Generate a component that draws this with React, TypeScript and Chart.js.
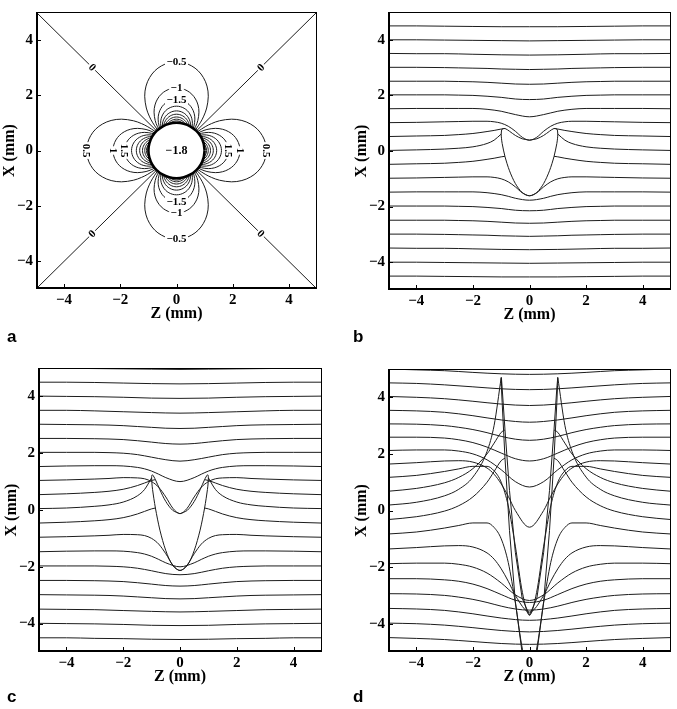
import React, { useEffect, useRef } from 'react';
import { Chart, registerables } from 'chart.js';

Chart.register(...registerables);

// ---------------- data ----------------
const TICK_VALUES = [-4, -2, 0, 2, 4];
const AXIS_MIN = -5;
const AXIS_MAX = 5;

// undistorted positions of the grid lines (mm), top to bottom
const LINE_BASES = [5, 4.5, 4, 3.5, 3, 2.5, 2, 1.5, 1, 0.5, 0, -0.5, -1, -1.5, -2, -2.5, -3, -3.5, -4, -4.5];
// |Z| sample positions (mm); each line is symmetric in Z
const Z_GRID = [0, 0.25, 0.5, 0.75, 0.866, 1, 1.25, 1.5, 2, 2.5, 3, 4, 5];
const n = null;

// panel b: displaced X position of each line at Z_GRID
const LINES_B = [
  [4.98, n, n, n, n, 4.98, n, n, 4.99, n, 4.99, 5, 5],
  [4.47, n, n, n, n, 4.47, n, n, 4.48, n, 4.49, 4.5, 4.5],
  [3.96, n, n, n, n, 3.97, n, n, 3.98, n, 3.99, 4, 4],
  [3.45, n, n, n, n, 3.46, n, n, 3.48, n, 3.5, 3.5, 3.51],
  [2.93, n, 2.94, n, n, 2.95, n, 2.97, 2.98, 2.99, 3, 3.01, 3.01],
  [2.4, n, 2.41, n, n, 2.44, n, 2.47, 2.49, 2.5, 2.51, 2.51, 2.51],
  [1.85, n, 1.87, n, n, 1.93, n, 1.97, 2, 2.01, 2.02, 2.02, 2.02],
  [1.23, n, 1.31, 1.37, n, 1.43, 1.47, 1.5, 1.53, 1.53, 1.53, 1.53, 1.52],
  [0.39, 0.49, 0.71, 0.89, n, 1, 1.05, 1.07, 1.07, 1.06, 1.05, 1.03, 1.02],
  [n, n, n, n, 0.81, 0.79, 0.74, 0.7, 0.63, 0.59, 0.56, 0.54, 0.52],
  [n, n, n, n, n, 0.61, 0.39, 0.27, 0.15, 0.1, 0.07, 0.04, 0.02],
  [n, n, n, n, -0.19, -0.21, -0.26, -0.3, -0.37, -0.41, -0.44, -0.46, -0.48],
  [-1.61, -1.51, -1.29, -1.11, n, -1, -0.95, -0.93, -0.93, -0.94, -0.95, -0.97, -0.98],
  [-1.77, n, -1.7, -1.63, n, -1.57, -1.53, -1.5, -1.47, -1.47, -1.47, -1.47, -1.48],
  [-2.15, n, -2.13, n, n, -2.07, n, -2.03, -2, -1.99, -1.98, -1.98, -1.98],
  [-2.6, n, -2.59, n, n, -2.56, n, -2.53, -2.51, -2.5, -2.49, -2.49, -2.49],
  [-3.07, n, -3.06, n, n, -3.05, n, -3.03, -3.02, -3.01, -3, -2.99, -2.99],
  [-3.55, n, n, n, n, -3.54, n, n, -3.52, n, -3.5, -3.5, -3.49],
  [-4.04, n, n, n, n, -4.03, n, n, -4.02, n, -4.01, -4, -4],
  [-4.53, n, n, n, n, -4.53, n, n, -4.52, n, -4.51, -4.5, -4.5],
];

const LINES_C = [
  [4.95, n, n, n, n, 4.96, n, n, 4.97, n, 4.98, 4.99, 5],
  [4.44, n, n, n, n, 4.45, n, n, 4.47, n, 4.49, 4.5, 4.5],
  [3.93, n, n, n, n, 3.94, n, n, 3.97, n, 3.99, 4, 4.01],
  [3.41, n, n, n, n, 3.43, n, n, 3.46, n, 3.49, 3.51, 3.51],
  [2.87, n, 2.88, n, n, 2.91, n, 2.94, 2.97, 2.99, 3, 3.01, 3.02],
  [2.32, n, 2.34, n, n, 2.39, n, 2.44, 2.48, 2.5, 2.51, 2.52, 2.52],
  [1.72, n, 1.77, n, n, 1.86, n, 1.95, 2, 2.02, 2.03, 2.03, 2.03],
  [1.0, n, 1.14, 1.26, n, 1.37, 1.45, 1.5, 1.55, 1.56, 1.56, 1.55, 1.53],
  [-0.13, 0.06, 0.46, 0.8, n, 1, 1.1, 1.13, 1.14, 1.11, 1.09, 1.06, 1.04],
  [n, n, n, n, 1.07, 1.04, 0.95, 0.86, 0.73, 0.66, 0.62, 0.57, 0.54],
  [n, n, n, n, n, 1.13, 0.72, 0.5, 0.28, 0.18, 0.13, 0.07, 0.05],
  [n, n, n, n, 0.07, 0.04, -0.05, -0.14, -0.27, -0.34, -0.38, -0.43, -0.46],
  [-2.13, -1.94, -1.54, -1.2, n, -1, -0.9, -0.87, -0.86, -0.89, -0.91, -0.94, -0.96],
  [-2.0, n, -1.86, -1.74, n, -1.63, -1.55, -1.5, -1.45, -1.44, -1.44, -1.45, -1.47],
  [-2.28, n, -2.24, n, n, -2.14, n, -2.05, -2, -1.98, -1.97, -1.97, -1.97],
  [-2.68, n, -2.66, n, n, -2.61, n, -2.56, -2.52, -2.5, -2.49, -2.48, -2.48],
  [-3.13, n, -3.12, n, n, -3.09, n, -3.06, -3.03, -3.01, -3, -2.99, -2.98],
  [-3.59, n, n, n, n, -3.57, n, n, -3.54, n, -3.51, -3.5, -3.49],
  [-4.07, n, n, n, n, -4.06, n, n, -4.03, n, -4.01, -4, -3.99],
  [-4.56, n, n, n, n, -4.55, n, n, -4.53, n, -4.52, -4.5, -4.5],
];

const LINES_D = [
  [4.81, n, n, n, n, 4.83, n, n, 4.88, n, 4.94, 4.97, 5],
  [4.27, n, n, n, n, 4.3, n, n, 4.37, n, 4.44, 4.49, 4.51],
  [3.71, n, n, n, n, 3.76, n, n, 3.86, n, 3.95, 4, 4.03],
  [3.12, n, n, n, n, 3.2, n, n, 3.35, n, 3.47, 3.52, 3.54],
  [2.48, n, 2.52, n, n, 2.62, n, 2.75, 2.86, 2.94, 3, 3.05, 3.06],
  [1.75, n, 1.83, n, n, 2.03, n, 2.24, 2.4, 2.5, 2.56, 2.59, 2.59],
  [0.83, n, 1.02, n, n, 1.44, n, 1.79, 2, 2.1, 2.14, 2.14, 2.12],
  [-0.59, n, 0, 0.5, n, 0.94, 1.28, 1.5, 1.71, 1.76, 1.75, 1.69, 1.64],
  [-3.7, -2.9, -1.26, 0.16, n, 1, 1.4, 1.56, 1.56, 1.47, 1.38, 1.24, 1.17],
  [n, n, n, n, 2.85, 2.76, 2.38, 2.0, 1.48, 1.17, 0.98, 0.78, 0.68],
  [n, n, n, n, n, 4.7, 3.01, 2.09, 1.18, 0.75, 0.52, 0.29, 0.19],
  [n, n, n, n, 1.85, 1.76, 1.38, 1.0, 0.48, 0.17, -0.02, -0.22, -0.32],
  [-5.7, -4.9, -3.26, -1.84, n, -1, -0.6, -0.44, -0.44, -0.53, -0.62, -0.76, -0.83],
  [-3.59, n, -3.0, -2.5, n, -2.06, -1.72, -1.5, -1.29, -1.24, -1.25, -1.31, -1.36],
  [-3.18, n, -2.98, n, n, -2.56, n, -2.21, -2, -1.9, -1.86, -1.86, -1.88],
  [-3.25, n, -3.17, n, n, -2.97, n, -2.76, -2.6, -2.5, -2.45, -2.41, -2.41],
  [-3.52, n, -3.48, n, n, -3.38, n, -3.25, -3.14, -3.06, -3, -2.95, -2.94],
  [-3.88, n, n, n, n, -3.8, n, n, -3.65, n, -3.53, -3.48, -3.46],
  [-4.29, n, n, n, n, -4.24, n, n, -4.14, n, -4.05, -4, -3.98],
  [-4.73, n, n, n, n, -4.7, n, n, -4.63, n, -4.56, -4.52, -4.49],
];

// image of the object's boundary (left half, top to bottom)
const BOUNDARY_Z = [0, -0.259, -0.5, -0.707, -0.866, -0.966, -0.991, -1, -0.991, -0.966, -0.866, -0.707, -0.5, -0.259, 0];
const BOUNDARY_B = [0.39, 0.44, 0.56, 0.71, 0.81, 0.79, 0.72, 0.61, 0.46, 0.27, -0.2, -0.71, -1.17, -1.49, -1.61];
const BOUNDARY_C = [-0.13, -0.01, 0.3, 0.71, 1.07, 1.24, 1.22, 1.13, 0.96, 0.72, 0.07, -0.71, -1.43, -1.95, -2.13];
const BOUNDARY_D = [-3.7, -3.1, -1.48, 0.71, 2.85, 4.33, 4.67, 4.7, 4.41, 3.81, 1.85, -0.71, -3.22, -5.04, -5.7];

// panel a: contour lobes
const LOBE_EXTENTS = [3.2, 2.26, 1.85, 1.6, 1.43, 1.31, 1.21, 1.13, 1.07];
const LOBE_AXES = [0, 90, 180, 270];
const LOBE_ANGLES = [0, 5, 10, 15, 20, 25, 30, 35, 38, 40, 42, 43, 44, 44.5, 45];
const LOBE_SHAPE = [1, 0.992, 0.969, 0.931, 0.875, 0.802, 0.707, 0.585, 0.492, 0.417, 0.323, 0.264, 0.187, 0.132, 0];
const ZERO_CONTOURS = [
  [[-5, 5], [5, -5]],
  [[-5, -5], [5, 5]],
];
const CIRCLE_RADIUS = 1.0;
const CIRCLE_STEP_DEG = 15;

const LABEL_TEXT = ['\u22120.5', '\u22121', '\u22121.5', '\u22121.5', '\u22121', '\u22120.5', '0.5', '1', '1.5', '0.5', '1', '1.5', '0', '0', '0', '0', '\u22121.8'];
const LABEL_Z = [0, 0, 0, 0, 0, 0, -3.2, -2.26, -1.85, 3.2, 2.26, 1.85, -3, 3, -3, 3, 0];
const LABEL_X = [3.2, 2.26, 1.85, -1.85, -2.26, -3.2, 0, 0, 0, 0, 0, 0, 3, 3, -3, -3, 0];
const LABEL_ROT = [0, 0, 0, 0, 0, 0, 90, 90, 90, 90, 90, 90, 45, -45, -45, 45, 0];

const PANEL_LETTERS = ['a', 'b', 'c', 'd'];

// ---------------- helpers ----------------
const SERIF = "'Liberation Serif', 'Times New Roman', Times, serif";
const LINE_COLOR = '#1c1c1c';
const Y_AXIS_W = 36;
const X_AXIS_H = 36;

const fmtTick = (v: number) => (v < 0 ? '\u2212' + Math.abs(v) : String(v));

function lineDs(points: any[], extra: any = {}) {
  return {
    data: points,
    borderColor: LINE_COLOR,
    borderWidth: 1,
    pointRadius: 0,
    fill: false,
    ...extra,
  };
}

function buildLineDatasets(rows: (number | null)[][]) {
  const out: any[] = [];
  rows.forEach((row) => {
    const left: any[] = [];
    for (let i = Z_GRID.length - 1; i >= 0; i--) {
      if (row[i] != null) left.push({ x: -Z_GRID[i], y: row[i] });
    }
    const right: any[] = [];
    for (let i = 0; i < Z_GRID.length; i++) {
      if (row[i] != null) right.push({ x: Z_GRID[i], y: row[i] });
    }
    const opts = { cubicInterpolationMode: 'monotone' };
    if (row[0] != null) {
      out.push(lineDs(left.concat(right.slice(1)), opts));
    } else {
      out.push(lineDs(left, opts));
      out.push(lineDs(right, opts));
    }
  });
  return out;
}

function buildBoundary(vals: number[], tension: number) {
  const pts: any[] = BOUNDARY_Z.map((z, i) => ({ x: z, y: vals[i] }));
  for (let i = BOUNDARY_Z.length - 2; i >= 1; i--) pts.push({ x: -BOUNDARY_Z[i], y: vals[i] });
  pts.push({ x: BOUNDARY_Z[0], y: vals[0] });
  return lineDs(pts, { tension });
}

function buildContours() {
  const out: any[] = [];
  // circle on top (index 0 is drawn last)
  const circ: any[] = [];
  for (let a = 0; a <= 360; a += CIRCLE_STEP_DEG) {
    const t = (a * Math.PI) / 180;
    circ.push({ x: CIRCLE_RADIUS * Math.cos(t), y: CIRCLE_RADIUS * Math.sin(t) });
  }
  out.push(lineDs(circ, { borderWidth: 2.6, borderColor: '#000', backgroundColor: '#ffffff', fill: 'shape', tension: 0.2 }));
  ZERO_CONTOURS.forEach((seg) => out.push(lineDs(seg.map(([x, y]) => ({ x, y })))));
  const angles = [...LOBE_ANGLES.slice(1).reverse().map((a) => -a), ...LOBE_ANGLES];
  const shape = [...LOBE_SHAPE.slice(1).reverse(), ...LOBE_SHAPE];
  LOBE_AXES.forEach((ax) => {
    LOBE_EXTENTS.forEach((ext) => {
      const pts = angles.map((a, i) => {
        const t = ((ax + a) * Math.PI) / 180;
        const r = ext * shape[i];
        return { x: r * Math.cos(t), y: r * Math.sin(t) };
      });
      out.push(lineDs(pts, { tension: 0.35 }));
    });
  });
  return out;
}

const framePlugin = {
  id: 'frame',
  afterDraw(chart: any) {
    const { ctx, chartArea: a, scales } = chart;
    ctx.save();
    ctx.strokeStyle = '#000';
    ctx.lineWidth = 1;
    ctx.beginPath();
    ctx.moveTo(a.left, a.top + 0.5);
    ctx.lineTo(a.right, a.top + 0.5);
    ctx.moveTo(a.right - 0.5, a.top);
    ctx.lineTo(a.right - 0.5, a.bottom);
    ctx.stroke();
    ctx.lineWidth = 2;
    ctx.beginPath();
    ctx.moveTo(a.left + 1, a.top);
    ctx.lineTo(a.left + 1, a.bottom);
    ctx.moveTo(a.left, a.bottom - 1);
    ctx.lineTo(a.right, a.bottom - 1);
    ctx.stroke();
    ctx.lineWidth = 1;
    ctx.beginPath();
    TICK_VALUES.forEach((v) => {
      const px = Math.round(scales.x.getPixelForValue(v)) + 0.5;
      ctx.moveTo(px, a.bottom);
      ctx.lineTo(px, a.bottom - 5);
      const py = Math.round(scales.y.getPixelForValue(v)) + 0.5;
      ctx.moveTo(a.left, py);
      ctx.lineTo(a.left + 5, py);
    });
    ctx.stroke();
    ctx.restore();
  },
};

const labelPlugin = {
  id: 'contourLabels',
  afterDatasetsDraw(chart: any) {
    const { ctx, scales } = chart;
    ctx.save();
    ctx.textAlign = 'center';
    ctx.textBaseline = 'middle';
    LABEL_TEXT.forEach((txt, i) => {
      const px = scales.x.getPixelForValue(LABEL_Z[i]);
      const py = scales.y.getPixelForValue(LABEL_X[i]);
      const big = i === LABEL_TEXT.length - 1;
      ctx.font = `bold ${big ? 12 : 11}px ${SERIF}`;
      const w = ctx.measureText(txt).width;
      ctx.save();
      ctx.translate(px, py);
      ctx.rotate((LABEL_ROT[i] * Math.PI) / 180);
      ctx.fillStyle = '#fff';
      ctx.fillRect(-w / 2 - 1.5, -5, w + 3, 10);
      ctx.fillStyle = '#000';
      ctx.fillText(txt, 0, 0.5);
      ctx.restore();
    });
    ctx.restore();
  },
};

function axisOpts(which: 'x' | 'y', title: string) {
  return {
    type: 'linear',
    min: AXIS_MIN,
    max: AXIS_MAX,
    afterBuildTicks: (s: any) => {
      s.ticks = TICK_VALUES.map((v) => ({ value: v }));
    },
    afterFit: (s: any) => {
      if (which === 'x') s.height = X_AXIS_H;
      else s.width = Y_AXIS_W;
    },
    grid: { display: false, drawTicks: false },
    border: { display: false },
    ticks: {
      padding: which === 'x' ? 2 : 3,
      color: '#000',
      autoSkip: false,
      maxRotation: 0,
      font: { family: SERIF, size: 15, weight: 'bold' },
      callback: (v: any) => fmtTick(Number(v)),
    },
    title: {
      display: true,
      text: title,
      color: '#000',
      font: { family: SERIF, size: 16, weight: 'bold' },
      padding: which === 'x' ? { top: 0, bottom: 2 } : { top: 0, bottom: 0 },
    },
  };
}

type PanelCfg = {
  canvas: { x: number; y: number; w: number; h: number };
  area: { l: number; t: number; r: number; b: number };
  datasets: () => any[];
  labels?: boolean;
};

const PANELS: PanelCfg[] = [
  {
    canvas: { x: 0, y: 0, w: 338, h: 330 },
    area: { l: 36, t: 7, r: 317, b: 289 },
    datasets: buildContours,
    labels: true,
  },
  {
    canvas: { x: 340, y: 0, w: 337, h: 330 },
    area: { l: 388, t: 7, r: 671, b: 290 },
    datasets: () => [buildBoundary(BOUNDARY_B, 0.3), ...buildLineDatasets(LINES_B)],
  },
  {
    canvas: { x: 0, y: 330, w: 338, h: 370 },
    area: { l: 38, t: 368, r: 322, b: 652 },
    datasets: () => [buildBoundary(BOUNDARY_C, 0.3), ...buildLineDatasets(LINES_C)],
  },
  {
    canvas: { x: 340, y: 330, w: 337, h: 370 },
    area: { l: 388, t: 369, r: 671, b: 652 },
    datasets: () => [buildBoundary(BOUNDARY_D, 0), ...buildLineDatasets(LINES_D)],
  },
];

const LETTER_POS = [
  { x: 7, y: 328 },
  { x: 353, y: 328 },
  { x: 7, y: 688 },
  { x: 353, y: 688 },
];

function Panel({ cfg }: { cfg: PanelCfg }) {
  const ref = useRef<HTMLCanvasElement | null>(null);
  useEffect(() => {
    if (!ref.current) return;
    const { canvas: c, area: a } = cfg;
    const padding = {
      left: a.l - c.x - Y_AXIS_W,
      top: a.t - c.y,
      right: c.x + c.w - a.r,
      bottom: c.y + c.h - a.b - X_AXIS_H,
    };
    const chart = new Chart(ref.current, {
      type: 'line',
      data: { datasets: cfg.datasets() },
      options: {
        responsive: false,
        maintainAspectRatio: false,
        animation: false,
        events: [],
        layout: { padding },
        plugins: { legend: { display: false }, tooltip: { enabled: false } },
        scales: {
          x: axisOpts('x', 'Z (mm)'),
          y: axisOpts('y', 'X (mm)'),
        },
      } as any,
      plugins: cfg.labels ? [framePlugin, labelPlugin] : [framePlugin],
    } as any);
    return () => chart.destroy();
  }, [cfg]);
  const c = cfg.canvas;
  return (
    <canvas
      ref={ref}
      width={c.w}
      height={c.h}
      style={{ position: 'absolute', left: c.x, top: c.y, width: c.w, height: c.h }}
    />
  );
}

export default function App() {
  return (
    <div
      style={{
        position: 'absolute',
        left: 0,
        top: 0,
        width: 677,
        height: 709,
        background: '#fff',
        overflow: 'hidden',
      }}
    >
      {PANELS.map((p, i) => (
        <Panel key={i} cfg={p} />
      ))}
      {PANEL_LETTERS.map((l, i) => (
        <div
          key={l}
          style={{
            position: 'absolute',
            left: LETTER_POS[i].x,
            top: LETTER_POS[i].y,
            font: "bold 17px 'Liberation Sans', Arial, sans-serif",
            lineHeight: '17px',
            color: '#000',
          }}
        >
          {l}
        </div>
      ))}
    </div>
  );
}
